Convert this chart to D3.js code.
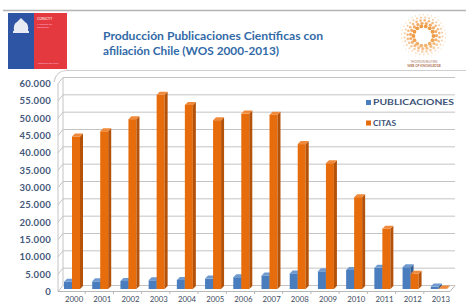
<!DOCTYPE html>
<html>
<head>
<meta charset="utf-8">
<script src="https://cdn.jsdelivr.net/npm/d3@7"></script>
<style>
  body { margin: 0; background: #fff; }
  svg { display: block; font-family: Lato, "Open Sans", sans-serif; }
</style>
</head>
<body>
<div id="chart"></div>
<script>
// data
var years = ["2000","2001","2002","2003","2004","2005","2006","2007","2008","2009","2010","2011","2012","2013"];
var publicaciones = [2100, 2200, 2300, 2500, 2600, 3000, 3400, 3900, 4500, 5100, 5500, 6100, 6300, 700];
var citas = [44000, 45500, 49000, 56000, 53100, 48700, 50600, 50300, 41800, 36300, 26500, 17400, 4400, 150];
var yTicks = [0, 5000, 10000, 15000, 20000, 25000, 30000, 35000, 40000, 45000, 50000, 55000, 60000];
var seriesNames = ["PUBLICACIONES", "CITAS"];
var titleLines = ["Producción Publicaciones Científicas con", "afiliación Chile (WOS 2000-2013)"];

var W = 466, H = 308;
var svg = d3.select("#chart").append("svg").attr("width", W).attr("height", H);

// slide decoration
svg.append("line").attr("x1", 3).attr("x2", W).attr("y1", 10.5).attr("y2", 10.5)
  .attr("stroke", "#b4b4b4").attr("stroke-width", 1.5);
svg.append("path").attr("d", "M54,82 Q56,71 66,70.5 L466,70.5")
  .attr("fill", "none").attr("stroke", "#cfcfcf").attr("stroke-width", 1.2);

// left logo
var logo = svg.append("g");
logo.append("rect").attr("x", 8).attr("y", 13).attr("width", 26).attr("height", 56).attr("fill", "#2d55a3");
logo.append("rect").attr("x", 34).attr("y", 13).attr("width", 33).attr("height", 56).attr("fill", "#e43a3f");
logo.append("path").attr("d", "M14,31 Q13,24 17,22 L21,18 L25,22 Q29,24 28,31 Z").attr("fill", "#e8ebf3");
logo.append("rect").attr("x", 13).attr("y", 31).attr("width", 16).attr("height", 2).attr("fill", "#e8ebf3");
logo.append("text").attr("x", 37).attr("y", 20).attr("font-size", 3.5).attr("fill", "#fff").text("CONICYT");
logo.append("text").attr("x", 37).attr("y", 24.5).attr("font-size", 2.6).attr("fill", "#fbd").text("Ministerio de");
logo.append("text").attr("x", 37).attr("y", 28).attr("font-size", 2.6).attr("fill", "#fbd").text("Educación");
logo.append("text").attr("x", 38).attr("y", 64).attr("font-size", 2.6).attr("fill", "#fbd").text("Gobierno de Chile");

// right logo (Web of Knowledge ring)
var wok = svg.append("g").attr("transform", "translate(423.5,36)");
[10, 13, 16, 19, 22].forEach(function(r, i) {
  var n = 14 + i * 5;
  d3.range(n).forEach(function(k) {
    var a = k / n * 2 * Math.PI + i * 0.3;
    wok.append("circle")
      .attr("cx", r * Math.cos(a)).attr("cy", r * Math.sin(a) * 0.98)
      .attr("r", 1.9 - i * 0.3)
      .attr("fill", "#ef9a45")
      .attr("opacity", 1 - i * 0.15 - 0.25 * Math.max(0, Math.sin(a)));
  });
});
svg.append("text").attr("x", 424).attr("y", 62.5).attr("text-anchor", "middle")
  .attr("font-size", 2.8).attr("fill", "#b08070").text("THOMSON REUTERS");
svg.append("text").attr("x", 424).attr("y", 67).attr("text-anchor", "middle")
  .attr("font-size", 3.2).attr("font-weight", "bold").attr("fill", "#b07050").text("WEB OF KNOWLEDGE");

// title
svg.selectAll(".title").data(titleLines).enter().append("text")
  .attr("class", "title")
  .attr("x", 103).attr("y", function(d, i) { return 40 + i * 15; })
  .attr("font-size", 11.5).attr("font-weight", "bold").attr("fill", "#336aa8")
  .attr("textLength", function(d, i) { return i == 0 ? 220 : 176; })
  .attr("lengthAdjust", "spacingAndGlyphs")
  .text(function(d) { return d; });

// scales
var x = d3.scaleBand().domain(years).range([59, 454]);
var y = d3.scaleLinear().domain([0, 60000]).range([289, 81]);
var bx = 3, by = 3;     // 3d depth of the bars
var fmt = d3.formatLocale({ decimal: ",", thousands: ".", grouping: [3], currency: ["", ""] }).format(",");

// walls / gridlines
var grid = svg.append("g").attr("fill", "none").attr("stroke", "#c4c4c4").attr("stroke-width", 1);
grid.selectAll("path").data(yTicks).enter().append("path")
  .attr("d", function(v) {
    var yf = y(v) + 2.5, yb = y(v) + 2.5 - 6;
    return "M58," + yf + " L63," + yb + " L455," + yb;
  });
grid.append("line").attr("x1", 58).attr("x2", 58).attr("y1", y(60000) + 2.5).attr("y2", y(0) + 2.5);
grid.append("line").attr("x1", 63).attr("x2", 63).attr("y1", y(60000) - 3.5).attr("y2", y(0) - 3.5);
grid.append("path").attr("d", "M58," + (y(0) + 2.5) + " L450," + (y(0) + 2.5) + " L455," + (y(0) - 3.5))
  .attr("stroke", "#b8b8b8");
grid.selectAll(".tk").data(years.slice(1)).enter().append("line")
  .attr("x1", function(d) { return x(d) - 2; }).attr("x2", function(d) { return x(d) - 2; })
  .attr("y1", y(0) + 2.5).attr("y2", y(0) + 5).attr("stroke", "#b8b8b8");

// bars with a little 3d
function bar3d(g, cx, val, w, front, side, top) {
  var y0 = y(0), y1 = y(val);
  g.append("rect").attr("x", cx).attr("y", y1).attr("width", w).attr("height", y0 - y1).attr("fill", front);
  g.append("path").attr("fill", side)
    .attr("d", "M" + (cx + w) + "," + y1 + " L" + (cx + w + bx) + "," + (y1 - by) +
      " L" + (cx + w + bx) + "," + (y0 - by) + " L" + (cx + w) + "," + y0 + "Z");
  g.append("path").attr("fill", top)
    .attr("d", "M" + cx + "," + y1 + " L" + (cx + bx) + "," + (y1 - by) +
      " L" + (cx + w + bx) + "," + (y1 - by) + " L" + (cx + w) + "," + y1 + "Z");
}
var bars = svg.append("g");
years.forEach(function(yr, i) {
  var b = x(yr);
  bar3d(bars, b + 5, publicaciones[i], 8, "#4a7dbd", "#355e92", "#6f9ad0");
  bar3d(bars, b + 13, citas[i], 8, "#e66c0c", "#b4520a", "#f08a3a");
});

// y axis labels
var yAxis = svg.append("g").attr("transform", "translate(51,2.5)")
  .call(d3.axisLeft(y).tickValues(yTicks).tickFormat(fmt).tickSize(0).tickPadding(0));
yAxis.select(".domain").remove();
yAxis.selectAll("text").attr("font-size", 9.5).attr("font-weight", "bold")
  .attr("font-family", "Lato, sans-serif").attr("fill", "#44577a").attr("letter-spacing", 0.3);

// x axis labels
var xAxis = svg.append("g").attr("transform", "translate(1," + (y(0) + 7) + ")")
  .call(d3.axisBottom(x).tickSize(0).tickPadding(0));
xAxis.select(".domain").remove();
xAxis.selectAll("text").attr("font-size", 7.8).attr("font-family", "Lato, sans-serif")
  .attr("fill", "#3e4a5e").attr("dy", "0.8em");

// legend
var legColors = ["#4a7dbd", "#e66c0c"];
var leg = svg.append("g").selectAll("g").data(seriesNames).enter().append("g")
  .attr("transform", function(d, i) { return "translate(366," + (100 + i * 20.5) + ")"; });
leg.append("rect").attr("width", 5).attr("height", 5).attr("fill", function(d, i) { return legColors[i]; });
leg.append("text").attr("x", 7).attr("y", 5).attr("font-size", 7.5).attr("font-weight", "bold")
  .attr("fill", "#3e5478")
  .attr("textLength", function(d, i) { return i == 0 ? 81 : 23; })
  .attr("lengthAdjust", "spacingAndGlyphs")
  .text(function(d) { return d; });
</script>
</body>
</html>
